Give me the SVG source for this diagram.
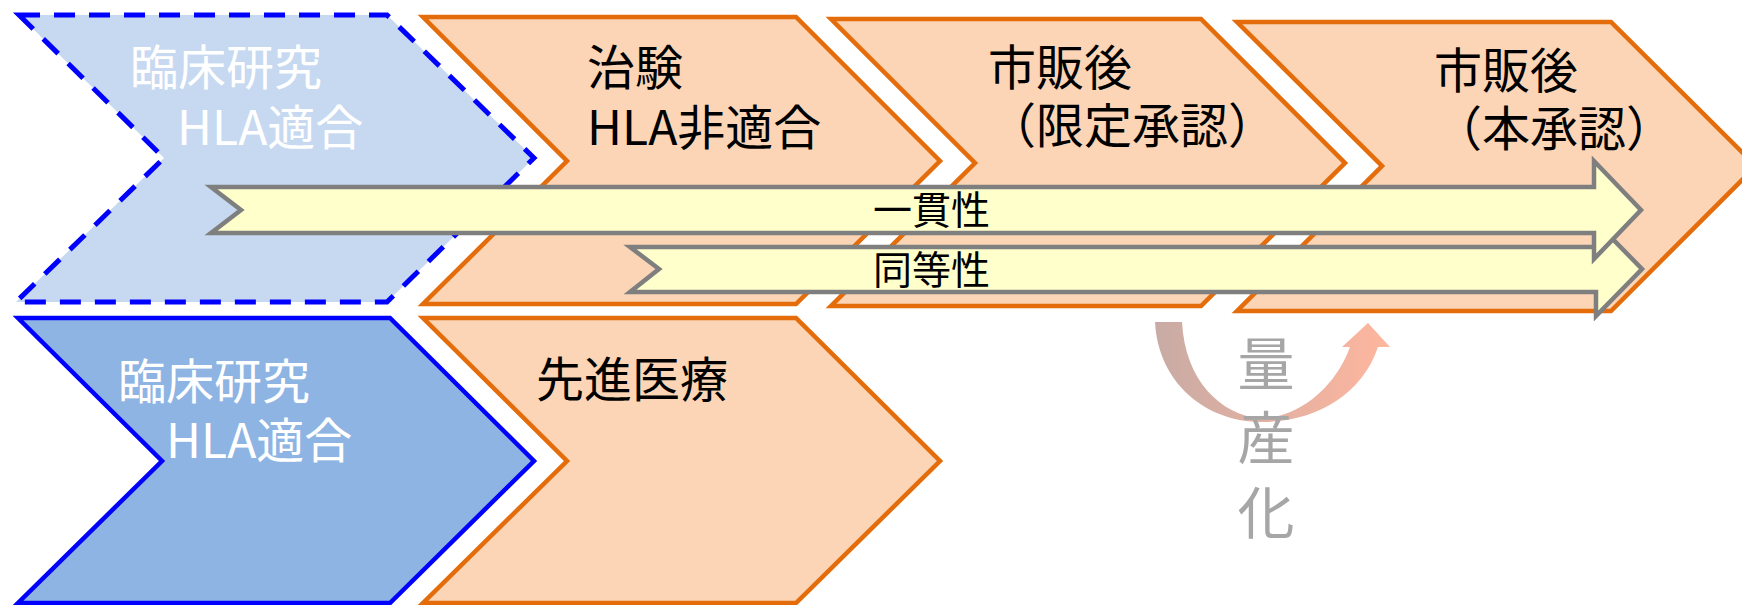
<svg xmlns="http://www.w3.org/2000/svg" width="1742" height="605" viewBox="0 0 1742 605">
<style>
.t{font-family:"Noto Sans CJK JP","Noto Sans",sans-serif;font-size:48px;fill:#000}
.w{fill:#FFFFFF}
.orange{fill:#FBD5B5;stroke:#E46C0A;stroke-width:4.5;stroke-linejoin:miter}
.dashed{fill:#C6D9F1;stroke:#0000FF;stroke-width:5;stroke-dasharray:21 14}
.blue{fill:#8EB4E3;stroke:#0000FF;stroke-width:4.5}
.arrow{fill:#FFFFCC;stroke:#7F7F7F;stroke-width:4.5}
.lbl{font-family:"Noto Sans CJK JP","Noto Sans",sans-serif;font-size:39px;fill:#000}
.mp{font-family:"Noto Sans CJK JP","Noto Sans",sans-serif;font-size:57px;fill:#A6A6A6;text-anchor:middle}
</style>
<defs>
<linearGradient id="cg" x1="1155" y1="0" x2="1390" y2="0" gradientUnits="userSpaceOnUse">
<stop offset="0" stop-color="#C8ABA5"/>
<stop offset="1" stop-color="#FFB69E"/>
</linearGradient>
</defs>
<g id="node-rinsho-dashed">
<path class="dashed" d="M19,15 L387,15 L534,158 L387,302 L16,302 L164,158 Z"/>
<text class="t w" x="130" y="85">臨床研究</text>
<text class="t w" x="177" y="145">HLA適合</text>
</g>
<g id="node-chiken">
<path class="orange" d="M423,17 L796,17 L940,161 L796,304 L423,304 L567,161 Z"/>
<text class="t" x="587" y="85">治験</text>
<text class="t" x="587" y="145">HLA非適合</text>
</g>
<g id="node-shihango-gentei">
<path class="orange" d="M831,19 L1201,19 L1345,163 L1201,306 L831,306 L975,163 Z"/>
<text class="t" x="988" y="85">市販後</text>
<text class="t" x="988" y="143">（限定承認）</text>
</g>
<g id="node-shihango-hon">
<path class="orange" d="M1237,22 L1611,22 L1756,166 L1611,311 L1237,311 L1382,166 Z"/>
<text class="t" x="1434" y="88">市販後</text>
<text class="t" x="1434" y="146">（本承認）</text>
</g>
<g id="node-rinsho-solid">
<path class="blue" d="M18,318 L390,318 L534,461 L390,603 L18,603 L162,461 Z"/>
<text class="t w" x="118" y="399">臨床研究</text>
<text class="t w" x="166" y="458">HLA適合</text>
</g>
<g id="node-senshin">
<path class="orange" d="M423,318 L796,318 L940,461 L796,603 L423,603 L567,461 Z"/>
<text class="t" x="536" y="397">先進医療</text>
</g>
<g id="connectors">
<g id="arrow-doutousei">
<path class="arrow" d="M630,247 L1596,247 L1596,222 L1642,269 L1596,316 L1596,292 L630,292 L659,269 Z"/>
<text class="lbl" x="873" y="284">同等性</text>
</g>
<g id="arrow-ikkansei">
<path class="arrow" d="M211,187 L1594,187 L1594,161 L1641,210 L1594,259 L1594,233 L211,233 L241,210 Z"/>
<text class="lbl" x="873" y="224">一貫性</text>
</g>
<g id="ryosanka">
<path fill="url(#cg)" d="M1155,322 C1158,382 1205,422 1262,422 C1315,422 1362,395 1378,347 L1390,347 L1368,323 L1342,347 L1350,347 C1335,388 1300,416 1262,419 C1220,415 1185,380 1182,322 Z"/>
<text class="mp" x="1266" y="385">量</text>
<text class="mp" x="1266" y="459">産</text>
<text class="mp" x="1266" y="534">化</text>
</g>
</g>
</svg>
